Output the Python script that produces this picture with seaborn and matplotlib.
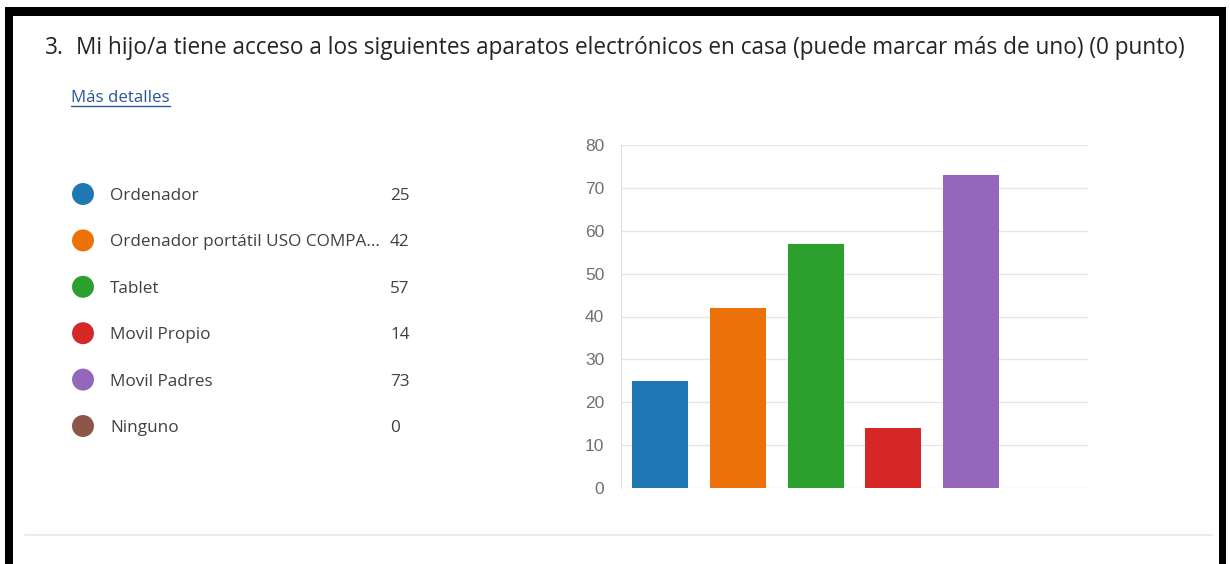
import matplotlib
matplotlib.use("Agg")
import matplotlib.pyplot as plt
import seaborn as sns
from matplotlib.patches import Rectangle
from matplotlib.lines import Line2D

# datos de la pregunta
question_number = "3."
question = "Mi hijo/a tiene acceso a los siguientes aparatos electrónicos en casa (puede marcar más de uno) (0 punto)"
link_text = "Más detalles"
categories = ["Ordenador", "Ordenador portátil USO COMPA...", "Tablet",
              "Movil Propio", "Movil Padres", "Ninguno"]
counts = [25, 42, 57, 14, 73, 0]
colors = ["#1f77b4", "#eb7108", "#2ca02c", "#d62728", "#9467bd", "#8c564b"]
y_ticks = [0, 10, 20, 30, 40, 50, 60, 70, 80]

W, H = 1230, 564

def fx(x):
    return x / W

def fy(y):
    return 1 - y / H

sns.set_style("white")
plt.rcParams['font.family'] = ['Open Sans', 'DejaVu Sans']

fig = plt.figure(figsize=(12.3, 5.64), dpi=100)
fig.patch.set_facecolor("white")

# marco negro
fig.add_artist(Rectangle((fx(5), fy(16)), fx(1226) - fx(5), (16 - 7) / H,
                         transform=fig.transFigure, color="black", lw=0))
fig.add_artist(Rectangle((fx(5), 0), fx(13) - fx(5), fy(7),
                         transform=fig.transFigure, color="black", lw=0))
fig.add_artist(Rectangle((fx(1219), 0), fx(1226) - fx(1219), fy(7),
                         transform=fig.transFigure, color="black", lw=0))

# separador inferior
fig.add_artist(Line2D([fx(25), fx(1212)], [fy(535), fy(535)],
                      transform=fig.transFigure, color="#e8e8e8", lw=1.2))

# titulo
fig.text(fx(45), fy(53.5), question_number, fontsize=16.3, color="#242424", va="baseline")
fig.text(fx(76), fy(53.5), question, fontsize=16.3, color="#242424", va="baseline")

# enlace
fig.text(fx(71), fy(102), link_text, fontsize=12.2, color="#2b579a", va="baseline")
fig.add_artist(Line2D([fx(71), fx(170)], [fy(106), fy(106)],
                      transform=fig.transFigure, color="#2b579a", lw=1))

# leyenda
leg_ax = fig.add_axes([fx(60), fy(449.2), fx(420) - fx(60), (449.2 - 170.8) / H])
leg_ax.set_xlim(60, 420)
leg_ax.set_ylim(len(categories) - 0.5, -0.5)
sns.scatterplot(x=[83] * len(categories), y=list(range(len(categories))),
                hue=categories, palette=colors, s=250, linewidth=0,
                legend=False, ax=leg_ax)
for i, (cat, val) in enumerate(zip(categories, counts)):
    leg_ax.text(110, i + 0.13, cat, fontsize=12.3, color="#404040", va="baseline")
    leg_ax.text(390, i + 0.13, str(val), fontsize=12.3, color="#404040", va="baseline")
leg_ax.axis("off")

# grafico de barras
ax = fig.add_axes([fx(621), fy(488), fx(1088) - fx(621), (488 - 145) / H])
sns.barplot(x=categories, y=counts, hue=categories, palette=colors,
            saturation=1, width=0.72, legend=False, linewidth=0, ax=ax)
ax.set_xlim(-0.5, len(categories) - 0.5)
ax.set_ylim(0, 80)
ax.set_yticks(y_ticks)
ax.set_xticks([])
ax.set_xlabel("")
ax.set_ylabel("")
ax.grid(axis="y", color="#e6e6e6", lw=1)
ax.set_axisbelow(True)
for s in ["top", "right", "bottom"]:
    ax.spines[s].set_visible(False)
ax.spines["left"].set_color("#e0e0e0")
ax.tick_params(axis="y", length=9, width=1, color="#e6e6e6", pad=3,
               labelsize=12.5, labelcolor="#707070")
for lab in ax.get_yticklabels():
    lab.set_family(["Liberation Sans", "DejaVu Sans"])

fig.savefig("out.png", dpi=100)
